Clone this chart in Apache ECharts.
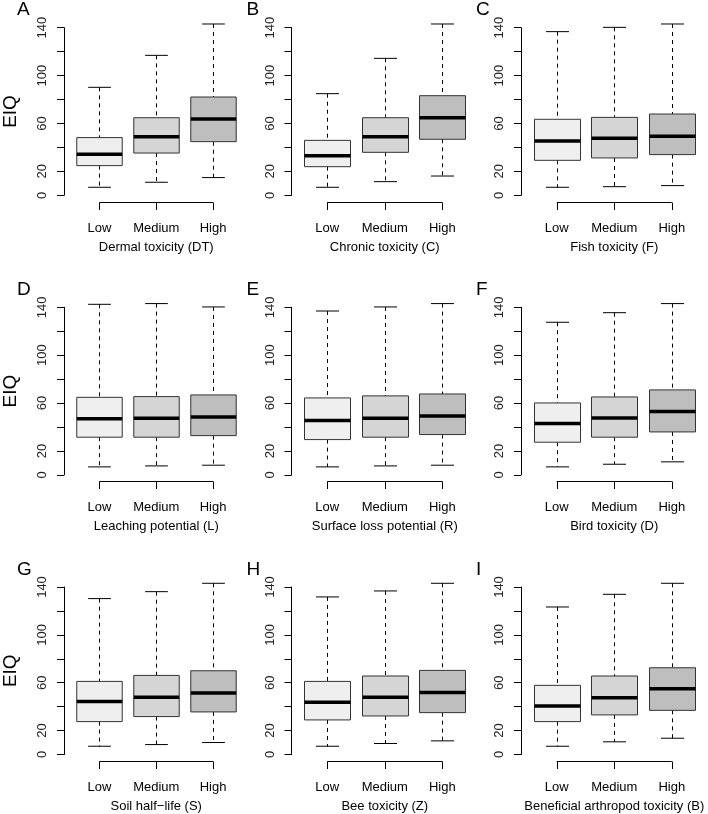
<!DOCTYPE html>
<html>
<head>
    <meta charset="utf-8">
    <title>EIQ by factor level</title>
    <script src="https://cdn.jsdelivr.net/npm/echarts@6/dist/echarts.min.js"></script>
    <style>
        html, body { margin: 0; padding: 0; background: #fff; }
        #main { width: 708px; height: 814px; }
    </style>
</head>
<body>
<div id="main"></div>

<script type="text/javascript">
    // categories (levels) for every panel
    var levels = ['Low', 'Medium', 'High'];
    var panelLetters = ['A', 'B', 'C', 'D', 'E', 'F', 'G', 'H', 'I'];
    var factorNames = ['Dermal toxicity (DT)', 'Chronic toxicity (C)', 'Fish toxicity (F)',
        'Leaching potential (L)', 'Surface loss potential (R)', 'Bird toxicity (D)',
        'Soil half\u2212life (S)', 'Bee toxicity (Z)', 'Beneficial arthropod toxicity (B)'];
    // y ticks, and the tick labels R actually prints
    var yTicks = [0, 20, 40, 60, 80, 100, 120, 140];
    var yTickLabels = [0, 20, 60, 100, 140];

    // box values per level: [lower whisker, Q1, median, Q3, upper whisker]
    var dermal = [[6.7, 24.8, 34.2, 48.2, 90.2], [10.9, 35.3, 49.0, 64.8, 116.9], [14.8, 44.8, 63.7, 82.1, 143.1]];
    var chronic = [[6.7, 23.9, 33.1, 45.9, 84.9], [11.4, 35.9, 49.0, 64.8, 114.4], [16.1, 46.8, 64.8, 83.2, 143.1]];
    var fish = [[6.7, 29.2, 45.4, 63.5, 136.7], [7.2, 31.2, 47.6, 65.1, 140.3], [8.1, 34.0, 49.3, 67.9, 143.1]];
    var leaching = [[6.7, 31.5, 46.8, 64.8, 142.5], [7.5, 31.5, 47.3, 65.4, 143.1], [8.1, 32.8, 48.4, 66.8, 140.3]];
    var surface = [[6.7, 29.5, 45.4, 64.3, 136.9], [7.5, 31.5, 47.3, 66.0, 140.3], [8.1, 33.7, 49.3, 67.6, 143.1]];
    var bird = [[6.7, 27.3, 42.9, 60.1, 127.5], [8.9, 31.5, 47.6, 65.1, 135.5], [10.9, 35.9, 52.9, 71.0, 143.1]];
    var soil = [[6.9, 27.5, 44.2, 61.1, 130.3], [8.3, 31.7, 47.8, 66.1, 136.1], [10.0, 35.6, 51.4, 70.0, 143.1]];
    var bee = [[6.9, 28.9, 43.6, 61.1, 131.7], [9.2, 32.2, 47.8, 65.6, 136.7], [11.4, 35.0, 51.9, 70.3, 143.1]];
    var beneficial = [[6.9, 27.5, 40.6, 57.8, 123.3], [10.6, 33.1, 47.5, 65.6, 133.9], [13.6, 36.9, 55.0, 72.5, 143.1]];

    var panels = [dermal, chronic, fish, leaching, surface, bird, soil, bee, beneficial];
    var boxFills = ['#efefef', '#d5d5d5', '#bebebe'];

    var fontFamily = 'Liberation Sans, Arial, sans-serif';

    // layout of the 3x3 grid (pixels)
    var axisX = [62, 291.5, 521];
    var rowTop = [27.7, 307.3, 587];
    var plotH = 167.6;
    var plotW = 172.5;

    // R style box: dashed whiskers, staples, box, thick median
    function renderBox(params, api) {
        var x = api.value(0);
        var lo = api.coord([x, api.value(1)]);
        var q1 = api.coord([x, api.value(2)]);
        var med = api.coord([x, api.value(3)]);
        var q3 = api.coord([x, api.value(4)]);
        var hi = api.coord([x, api.value(5)]);
        var band = api.size([1, 0])[0];
        var half = band * 0.4;
        var cap = band * 0.2;
        var cx = Math.round(lo[0]) + 0.5;
        var dash = {stroke: '#000', lineWidth: 1, lineDash: [4, 4]};
        var solid = {stroke: '#000', lineWidth: 1};
        return {
            type: 'group',
            children: [
                {type: 'line', shape: {x1: cx, y1: hi[1], x2: cx, y2: q3[1]}, style: dash},
                {type: 'line', shape: {x1: cx, y1: q1[1], x2: cx, y2: lo[1]}, style: dash},
                {type: 'line', shape: {x1: cx - cap, y1: hi[1], x2: cx + cap, y2: hi[1]}, style: solid},
                {type: 'line', shape: {x1: cx - cap, y1: lo[1], x2: cx + cap, y2: lo[1]}, style: solid},
                {
                    type: 'rect',
                    shape: {x: cx - half, y: q3[1], width: half * 2, height: q1[1] - q3[1]},
                    style: {fill: api.visual('color'), stroke: '#333', lineWidth: 1}
                },
                {type: 'line', shape: {x1: cx - half, y1: med[1], x2: cx + half, y2: med[1]}, style: {stroke: '#000', lineWidth: 3.5}}
            ]
        };
    }

    // x axis line from first to last level with downward ticks, like R draws it
    function renderBracket(params, api) {
        var a = api.coord([api.value(0), 0]);
        var b = api.coord([api.value(1), 0]);
        var y = Math.round(a[1] + 6.5) + 0.5;
        var children = [{
            type: 'line',
            shape: {x1: a[0], y1: y, x2: b[0], y2: y},
            style: {stroke: '#000', lineWidth: 1}
        }];
        for (var k = api.value(0); k <= api.value(1); k++) {
            var tx = Math.round(api.coord([k, 0])[0]) + 0.5;
            children.push({
                type: 'line',
                shape: {x1: tx, y1: y, x2: tx, y2: y + 7.5},
                style: {stroke: '#000', lineWidth: 1}
            });
        }
        return {type: 'group', children: children};
    }

    var grids = [], xAxes = [], yAxes = [], series = [], titles = [];

    panels.forEach(function (boxes, i) {
        var col = i % 3, row = Math.floor(i / 3);
        grids.push({left: axisX[col] + 7, top: rowTop[row], width: plotW, height: plotH});

        xAxes.push({
            type: 'category',
            gridIndex: i,
            data: levels,
            offset: 6.5,
            axisLine: {show: false},
            axisTick: {show: false},
            axisLabel: {interval: 0, margin: 20, color: '#000', fontSize: 13, fontFamily: fontFamily},
            name: factorNames[i],
            nameLocation: 'middle',
            nameGap: 39,
            nameTextStyle: {color: '#000', fontSize: 13, fontFamily: fontFamily},
            splitLine: {show: false}
        });

        yAxes.push({
            type: 'value',
            gridIndex: i,
            min: yTicks[0],
            max: yTicks[yTicks.length - 1],
            interval: 20,
            offset: 7,
            axisLine: {show: true, lineStyle: {color: '#000'}},
            axisTick: {show: true, length: 7, lineStyle: {color: '#000'}},
            axisLabel: {
                rotate: 90,
                margin: 15,
                color: '#222',
                fontSize: 13,
                fontFamily: fontFamily,
                formatter: function (v) {
                    return yTickLabels.indexOf(v) >= 0 ? String(v) : '';
                }
            },
            splitLine: {show: false},
            name: col === 0 ? 'EIQ' : '',
            nameLocation: 'middle',
            nameRotate: 90,
            nameGap: 44,
            nameTextStyle: {color: '#000', fontSize: 19, fontFamily: fontFamily}
        });

        series.push({
            type: 'custom',
            xAxisIndex: i,
            yAxisIndex: i,
            renderItem: renderBox,
            clip: false,
            data: boxes.map(function (b, k) {
                return {value: [k].concat(b), itemStyle: {color: boxFills[k]}};
            })
        });

        series.push({
            type: 'custom',
            xAxisIndex: i,
            yAxisIndex: i,
            renderItem: renderBracket,
            clip: false,
            silent: true,
            data: [[0, levels.length - 1]]
        });

        titles.push({
            text: panelLetters[i],
            left: axisX[col] - 45,
            top: rowTop[row] - 27,
            padding: 0,
            textStyle: {fontSize: 19, fontWeight: 'normal', color: '#000', fontFamily: fontFamily}
        });
    });

    var chart = echarts.init(document.getElementById('main'));
    chart.setOption({
        animation: false,
        backgroundColor: '#fff',
        title: titles,
        grid: grids,
        xAxis: xAxes,
        yAxis: yAxes,
        series: series
    });
</script>
</body>
</html>
